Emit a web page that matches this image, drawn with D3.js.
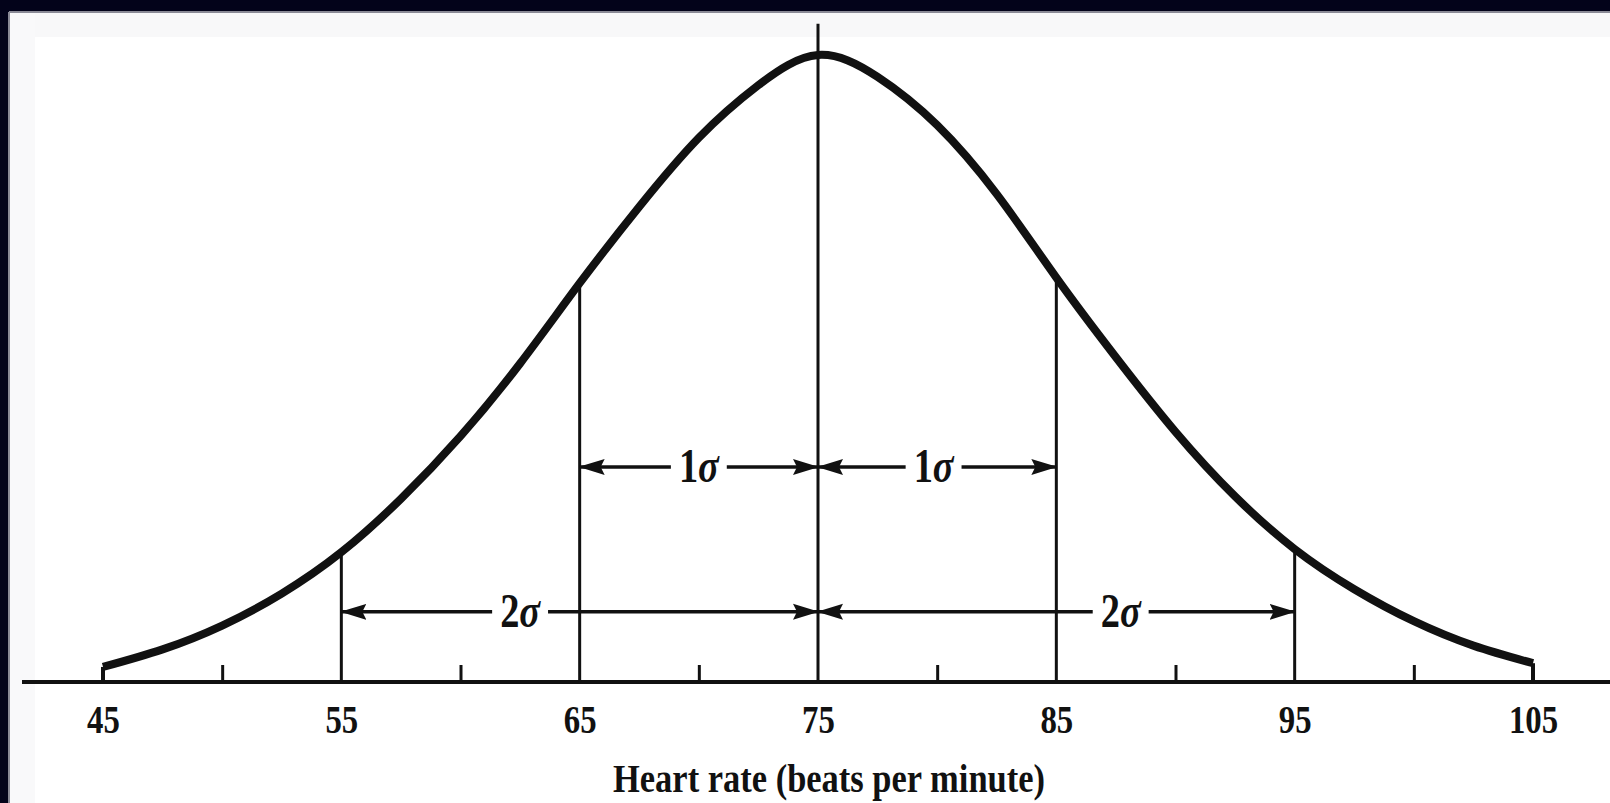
<!DOCTYPE html>
<html>
<head>
<meta charset="utf-8">
<script src="https://cdn.jsdelivr.net/npm/d3@7"></script>
<style>
  html, body { margin: 0; padding: 0; background: #03031a; overflow: hidden; }
  svg { display: block; }
  text { font-family: "Liberation Serif", "DejaVu Serif", serif; font-weight: bold; fill: #111; }
</style>
</head>
<body>
<div id="chart"></div>
<script>
// Curve (heart rate, relative height with peak = 1)
var curveX = [45, 47.5, 50, 52.5, 55, 57.5, 60, 62.5, 65, 67.5, 70, 72.5, 75,
              77.5, 80, 82.5, 85, 87.5, 90, 92.5, 95, 97.5, 100, 102.5, 105];
var curveY = [0.024, 0.052, 0.090, 0.141, 0.207, 0.292, 0.392, 0.508, 0.636, 0.758, 0.868, 0.952, 1.0,
              0.965, 0.888, 0.778, 0.645, 0.518, 0.399, 0.296, 0.212, 0.148, 0.097, 0.058, 0.030];

// vertical sigma lines and where they stop
var markX = [55, 65, 75, 85, 95];
var markTop = [0.207, 0.636, 1.05, 0.645, 0.212];

// tick labels and small ticks
var labelTicks = [45, 55, 65, 75, 85, 95, 105];
var minorTicks = [50, 60, 70, 80, 90, 100];

// arrow spans
var spanFrom = [65, 75, 55, 75];
var spanTo = [75, 85, 75, 95];
var spanLabel = ["1", "1", "2", "2"];
var spanLabelX = [70, 79.85, 62.5, 87.7];
var spanLevel = [0.343, 0.343, 0.112, 0.112];

var axisTitle = "Heart rate (beats per minute)";

var svgWidth = 1610;
var svgHeight = 803;

var svg = d3.select("#chart")
  .append("svg")
  .attr("width", svgWidth)
  .attr("height", svgHeight);

// white page inside the dark frame
svg.append("rect").attr("x", 9).attr("y", 12).attr("width", svgWidth).attr("height", svgHeight).attr("fill", "#ffffff");
svg.append("rect").attr("x", 9).attr("y", 12).attr("width", svgWidth).attr("height", 25).attr("fill", "#f8f8f9");
svg.append("rect").attr("x", 9).attr("y", 12).attr("width", 26).attr("height", svgHeight).attr("fill", "#f9f9fa");
svg.append("line").attr("x1", 9).attr("x2", svgWidth).attr("y1", 12).attr("y2", 12).attr("stroke", "#8a8a96").attr("stroke-width", 2);
svg.append("line").attr("x1", 9).attr("x2", 9).attr("y1", 12).attr("y2", svgHeight).attr("stroke", "#8a8a96").attr("stroke-width", 2);

var xScale = d3.scaleLinear().domain([45, 105]).range([103, 1533]);
var yScale = d3.scaleLinear().domain([0, 1]).range([682, 55]);

// arrow head
svg.append("defs").append("marker")
  .attr("id", "head")
  .attr("viewBox", "0 0 26 18")
  .attr("refX", 25)
  .attr("refY", 9)
  .attr("markerWidth", 26)
  .attr("markerHeight", 18)
  .attr("markerUnits", "userSpaceOnUse")
  .attr("orient", "auto-start-reverse")
  .append("path")
  .attr("d", "M0,1 L26,9 L0,17 L4,9 Z")
  .attr("fill", "#111");

// base line across the page
svg.append("line")
  .attr("x1", 22).attr("x2", svgWidth)
  .attr("y1", yScale(0)).attr("y2", yScale(0))
  .attr("stroke", "#111").attr("stroke-width", 4);

// small ticks pointing up
var minorAxis = d3.axisTop(xScale).tickValues(minorTicks).tickSize(17).tickFormat("");
var gMinor = svg.append("g").attr("transform", `translate(0, ${yScale(0)})`).call(minorAxis);
gMinor.select(".domain").remove();
gMinor.selectAll("line").attr("stroke", "#111").attr("stroke-width", 3);

// labels under the axis
var labelAxis = d3.axisBottom(xScale).tickValues(labelTicks).tickSize(0).tickPadding(22).tickFormat(d3.format("d"));
var gLabels = svg.append("g").attr("transform", `translate(0, ${yScale(0)})`).call(labelAxis);
gLabels.select(".domain").remove();
gLabels.selectAll("text")
  .attr("font-family", null)
  .attr("font-size", null)
  .style("font-size", "41px")
  .attr("fill", "#111")
  .attr("transform", "scale(0.8,1)");

// vertical lines
svg.selectAll(".mark")
  .data(markX)
  .enter()
  .append("line")
  .attr("class", "mark")
  .attr("x1", d => xScale(d)).attr("x2", d => xScale(d))
  .attr("y1", yScale(0))
  .attr("y2", (d, i) => yScale(markTop[i]))
  .attr("stroke", "#111").attr("stroke-width", 3);

// curve ends drop to the axis
svg.selectAll(".hook")
  .data([0, curveX.length - 1])
  .enter()
  .append("line")
  .attr("x1", i => xScale(curveX[i])).attr("x2", i => xScale(curveX[i]))
  .attr("y1", yScale(0)).attr("y2", i => yScale(curveY[i]))
  .attr("stroke", "#111").attr("stroke-width", 4);

// the bell curve
var line = d3.line()
  .x((d, i) => xScale(curveX[i]))
  .y(d => yScale(d))
  .curve(d3.curveNatural);

svg.append("path")
  .datum(curveY)
  .attr("d", line)
  .attr("fill", "none")
  .attr("stroke", "#111")
  .attr("stroke-width", 8)
  .attr("stroke-linecap", "butt");

// arrow spans with sigma labels
spanFrom.forEach(function (from, i) {
  var yy = yScale(spanLevel[i]);
  var cx = xScale(spanLabelX[i]);
  var t = svg.append("text")
    .attr("transform", `translate(${cx}, ${yy + 15}) scale(0.8,1)`)
    .attr("text-anchor", "middle")
    .style("font-size", "48px");
  t.append("tspan").text(spanLabel[i]);
  t.append("tspan").style("font-style", "italic").text("σ");
  var half = t.node().getComputedTextLength() * 0.8 / 2;

  svg.append("line")
    .attr("x1", xScale(from)).attr("x2", cx - half - 8)
    .attr("y1", yy).attr("y2", yy)
    .attr("stroke", "#111").attr("stroke-width", 3.5)
    .attr("marker-start", "url(#head)");
  svg.append("line")
    .attr("x1", cx + half + 8).attr("x2", xScale(spanTo[i]))
    .attr("y1", yy).attr("y2", yy)
    .attr("stroke", "#111").attr("stroke-width", 3.5)
    .attr("marker-end", "url(#head)");
});

// axis title
svg.append("text")
  .attr("x", 613)
  .attr("y", 792)
  .attr("textLength", 432)
  .attr("lengthAdjust", "spacingAndGlyphs")
  .style("font-size", "40px")
  .text(axisTitle);
</script>
</body>
</html>
